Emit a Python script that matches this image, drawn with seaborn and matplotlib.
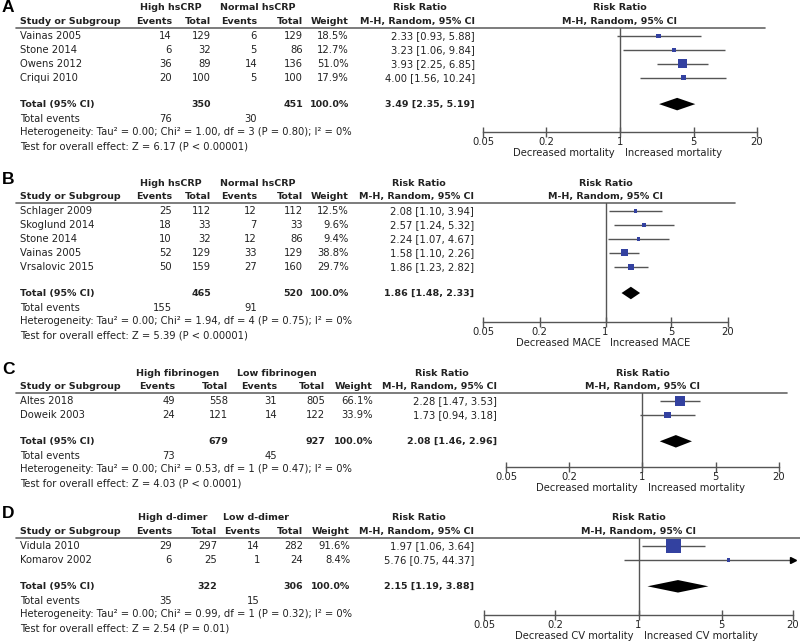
import numpy as np
import pandas as pd
import seaborn as sns
import matplotlib.pyplot as plt

sns.set_style("white")
plt.rcParams["font.family"] = ["DejaVu Sans"]

# Panel A - hsCRP and mortality
a_studies = ["Vainas 2005", "Stone 2014", "Owens 2012", "Criqui 2010"]
a_ev_hi = [14, 6, 36, 20]
a_n_hi = [129, 32, 89, 100]
a_ev_lo = [6, 5, 14, 5]
a_n_lo = [129, 86, 136, 100]
a_weight = [18.5, 12.7, 51.0, 17.9]
a_rr = [2.33, 3.23, 3.93, 4.00]
a_ci_lo = [0.93, 1.06, 2.25, 1.56]
a_ci_hi = [5.88, 9.84, 6.85, 10.24]
a_totals = [350, 451]
a_events = [76, 30]
a_pooled = [3.49, 2.35, 5.19]
a_groups = ["High hsCRP", "Normal hsCRP"]
a_het = "Heterogeneity: Tau² = 0.00; Chi² = 1.00, df = 3 (P = 0.80); I² = 0%"
a_test = "Test for overall effect: Z = 6.17 (P < 0.00001)"
a_favours = ["Decreased mortality", "Increased mortality"]

# Panel B - hsCRP and MACE
b_studies = ["Schlager 2009", "Skoglund 2014", "Stone 2014", "Vainas 2005", "Vrsalovic 2015"]
b_ev_hi = [25, 18, 10, 52, 50]
b_n_hi = [112, 33, 32, 129, 159]
b_ev_lo = [12, 7, 12, 33, 27]
b_n_lo = [112, 33, 86, 129, 160]
b_weight = [12.5, 9.6, 9.4, 38.8, 29.7]
b_rr = [2.08, 2.57, 2.24, 1.58, 1.86]
b_ci_lo = [1.10, 1.24, 1.07, 1.10, 1.23]
b_ci_hi = [3.94, 5.32, 4.67, 2.26, 2.82]
b_totals = [465, 520]
b_events = [155, 91]
b_pooled = [1.86, 1.48, 2.33]
b_groups = ["High hsCRP", "Normal hsCRP"]
b_het = "Heterogeneity: Tau² = 0.00; Chi² = 1.94, df = 4 (P = 0.75); I² = 0%"
b_test = "Test for overall effect: Z = 5.39 (P < 0.00001)"
b_favours = ["Decreased MACE", "Increased MACE"]

# Panel C - fibrinogen and mortality
c_studies = ["Altes 2018", "Doweik 2003"]
c_ev_hi = [49, 24]
c_n_hi = [558, 121]
c_ev_lo = [31, 14]
c_n_lo = [805, 122]
c_weight = [66.1, 33.9]
c_rr = [2.28, 1.73]
c_ci_lo = [1.47, 0.94]
c_ci_hi = [3.53, 3.18]
c_totals = [679, 927]
c_events = [73, 45]
c_pooled = [2.08, 1.46, 2.96]
c_groups = ["High fibrinogen", "Low fibrinogen"]
c_het = "Heterogeneity: Tau² = 0.00; Chi² = 0.53, df = 1 (P = 0.47); I² = 0%"
c_test = "Test for overall effect: Z = 4.03 (P < 0.0001)"
c_favours = ["Decreased mortality", "Increased mortality"]

# Panel D - d-dimer and CV mortality
d_studies = ["Vidula 2010", "Komarov 2002"]
d_ev_hi = [29, 6]
d_n_hi = [297, 25]
d_ev_lo = [14, 1]
d_n_lo = [282, 24]
d_weight = [91.6, 8.4]
d_rr = [1.97, 5.76]
d_ci_lo = [1.06, 0.75]
d_ci_hi = [3.64, 44.37]
d_totals = [322, 306]
d_events = [35, 15]
d_pooled = [2.15, 1.19, 3.88]
d_groups = ["High d-dimer", "Low d-dimer"]
d_het = "Heterogeneity: Tau² = 0.00; Chi² = 0.99, df = 1 (P = 0.32); I² = 0%"
d_test = "Test for overall effect: Z = 2.54 (P = 0.01)"
d_favours = ["Decreased CV mortality", "Increased CV mortality"]

tick_vals = [0.05, 0.2, 1, 5, 20]
tick_labels = ["0.05", "0.2", "1", "5", "20"]


def make_panel(studies, ev_hi, n_hi, ev_lo, n_lo, weight, rr, lo, hi,
               totals, events, pooled, groups, het, test, favours):
    df = pd.DataFrame({"study": studies, "ev_hi": ev_hi, "n_hi": n_hi,
                       "ev_lo": ev_lo, "n_lo": n_lo, "weight": weight,
                       "rr": rr, "lo": lo, "hi": hi})
    return dict(df=df, totals=totals, events=events, pooled=pooled,
                groups=groups, het=het, test=test, favours=favours)


panels = [
    make_panel(a_studies, a_ev_hi, a_n_hi, a_ev_lo, a_n_lo, a_weight, a_rr, a_ci_lo,
               a_ci_hi, a_totals, a_events, a_pooled, a_groups, a_het, a_test, a_favours),
    make_panel(b_studies, b_ev_hi, b_n_hi, b_ev_lo, b_n_lo, b_weight, b_rr, b_ci_lo,
               b_ci_hi, b_totals, b_events, b_pooled, b_groups, b_het, b_test, b_favours),
    make_panel(c_studies, c_ev_hi, c_n_hi, c_ev_lo, c_n_lo, c_weight, c_rr, c_ci_lo,
               c_ci_hi, c_totals, c_events, c_pooled, c_groups, c_het, c_test, c_favours),
    make_panel(d_studies, d_ev_hi, d_n_hi, d_ev_lo, d_n_lo, d_weight, d_rr, d_ci_lo,
               d_ci_hi, d_totals, d_events, d_pooled, d_groups, d_het, d_test, d_favours),
]

# layout in pixels: header line y, axis line y, column right edges,
# group header centres, forest left/right, header line end
layouts = [
    dict(letter="A", L=28, axis=132, cols=[172, 211, 257, 303, 349, 475],
         gc=[171, 258], fx=[483, 757], lend=765),
    dict(letter="B", L=203, axis=322, cols=[172, 211, 257, 303, 349, 474],
         gc=[171, 258], fx=[483, 728], lend=735),
    dict(letter="C", L=393, axis=467, cols=[175, 228, 277, 325, 373, 497],
         gc=[178, 277], fx=[506, 779], lend=787),
    dict(letter="D", L=538, axis=615, cols=[172, 217, 260, 303, 350, 474],
         gc=[173, 256], fx=[484, 793], lend=800),
]

W, H = 800, 643
STEP = 13.9
FS = 7.2     # regular text
FB = 6.8     # bold text (DejaVu bold runs wide)
TXT = "#222222"
GREY = "#555555"
BLUE = "#3341A0"

fig = plt.figure(figsize=(W / 100, H / 100), dpi=100)
tx = fig.add_axes([0, 0, 1, 1])
tx.set_xlim(0, W)
tx.set_ylim(H, 0)
tx.axis("off")

for p, lay in zip(panels, layouts):
    df = p["df"]
    n = len(df)
    L = lay["L"]
    row0 = L + 8
    tot_row = n + 0.9
    ypix = lambda r: row0 + r * STEP
    c = lay["cols"]
    mid = (lay["fx"][0] + lay["fx"][1]) / 2

    # letter and headers
    tx.text(2, max(L - 24, 8), lay["letter"], fontsize=12.5, fontweight="bold",
            family="Liberation Sans", va="center", ha="left", color="black")
    tx.text(lay["gc"][0], L - 20, p["groups"][0], fontsize=FB, fontweight="bold",
            ha="center", va="center", color=TXT)
    tx.text(lay["gc"][1], L - 20, p["groups"][1], fontsize=FB, fontweight="bold",
            ha="center", va="center", color=TXT)
    tx.text(c[5] - 55, L - 20, "Risk Ratio", fontsize=FB, fontweight="bold",
            ha="center", va="center", color=TXT)
    tx.text(mid, L - 20, "Risk Ratio", fontsize=FB, fontweight="bold",
            ha="center", va="center", color=TXT)
    tx.text(20, L - 6.5, "Study or Subgroup", fontsize=FB, fontweight="bold",
            ha="left", va="center", color=TXT)
    for x, lab in zip(c, ["Events", "Total", "Events", "Total", "Weight",
                          "M-H, Random, 95% CI"]):
        tx.text(x, L - 6.5, lab, fontsize=FB, fontweight="bold",
                ha="right", va="center", color=TXT)
    tx.text(mid, L - 6.5, "M-H, Random, 95% CI", fontsize=FB, fontweight="bold",
            ha="center", va="center", color=TXT)
    tx.plot([16, lay["lend"]], [L, L], color="#666666", lw=1.2)

    # study rows
    for i, r in df.iterrows():
        y = ypix(i)
        tx.text(20, y, r["study"], fontsize=FS, ha="left", va="center", color=TXT)
        vals = [f"{r['ev_hi']}", f"{r['n_hi']}", f"{r['ev_lo']}", f"{r['n_lo']}",
                f"{r['weight']:.1f}%",
                f"{r['rr']:.2f} [{r['lo']:.2f}, {r['hi']:.2f}]"]
        for x, v in zip(c, vals):
            tx.text(x, y, v, fontsize=FS, ha="right", va="center", color=TXT)

    # total rows
    yt = ypix(tot_row)
    pr = p["pooled"]
    tx.text(20, yt, "Total (95% CI)", fontsize=FB, fontweight="bold",
            ha="left", va="center", color=TXT)
    for x, v in zip([c[1], c[3], c[4], c[5]],
                    [f"{p['totals'][0]}", f"{p['totals'][1]}", "100.0%",
                     f"{pr[0]:.2f} [{pr[1]:.2f}, {pr[2]:.2f}]"]):
        tx.text(x, yt, v, fontsize=FB, fontweight="bold", ha="right",
                va="center", color=TXT)
    ye = yt + 15
    tx.text(20, ye, "Total events", fontsize=FS, ha="left", va="center", color=TXT)
    tx.text(c[0], ye, f"{p['events'][0]}", fontsize=FS, ha="right", va="center", color=TXT)
    tx.text(c[2], ye, f"{p['events'][1]}", fontsize=FS, ha="right", va="center", color=TXT)
    tx.text(20, yt + 28, p["het"], fontsize=FS, ha="left", va="center", color=TXT)
    tx.text(20, yt + 42, p["test"], fontsize=FS, ha="left", va="center", color=TXT)

    # forest plot axes
    x0, x1 = lay["fx"]
    ax = fig.add_axes([x0 / W, 1 - lay["axis"] / H, (x1 - x0) / W,
                       (lay["axis"] - L) / H])
    ax.set_facecolor("none")
    ax.set_xscale("log")
    ax.set_xlim(0.05, 20)
    ax.set_ylim((lay["axis"] - row0) / STEP, (L - row0) / STEP)
    ax.axvline(1, color=GREY, lw=1)
    rows = np.arange(n)
    ci_hi = np.minimum(df["hi"], 20)
    ax.hlines(rows, df["lo"], ci_hi, color=GREY, lw=1, zorder=2)
    for i in rows:
        if df["hi"][i] > 20:
            ax.plot([20], [i], marker=">", ms=4, color="black", clip_on=False)
    # box side grows with study weight
    side_pt = (0.13 * df["weight"] + 2.2) * 0.72
    sns.scatterplot(x=df["rr"], y=rows, s=(side_pt ** 2).tolist(), marker="s",
                    color=BLUE, linewidth=0, ax=ax, legend=False, zorder=3)
    h = 0.45
    ax.fill([pr[1], pr[0], pr[2], pr[0]], [tot_row, tot_row - h, tot_row, tot_row + h],
            color="black", lw=0, zorder=3)
    sns.despine(ax=ax, left=True)
    ax.spines["bottom"].set_color(GREY)
    ax.spines["bottom"].set_linewidth(1)
    ax.set_xticks(tick_vals)
    ax.set_xticklabels(tick_labels)
    ax.minorticks_off()
    ax.set_yticks([])
    ax.tick_params(axis="x", direction="inout", length=7, width=1, color=GREY,
                   labelsize=FS, labelcolor=TXT, pad=0, bottom=True)
    ax.set_xlabel("")
    ax.set_ylabel("")
    # favours captions
    tx.text(mid - 5, lay["axis"] + 21, p["favours"][0], fontsize=FS,
            ha="right", va="center", color=TXT)
    tx.text(mid + 5, lay["axis"] + 21, p["favours"][1], fontsize=FS,
            ha="left", va="center", color=TXT)

fig.savefig("out.png", dpi=100)
